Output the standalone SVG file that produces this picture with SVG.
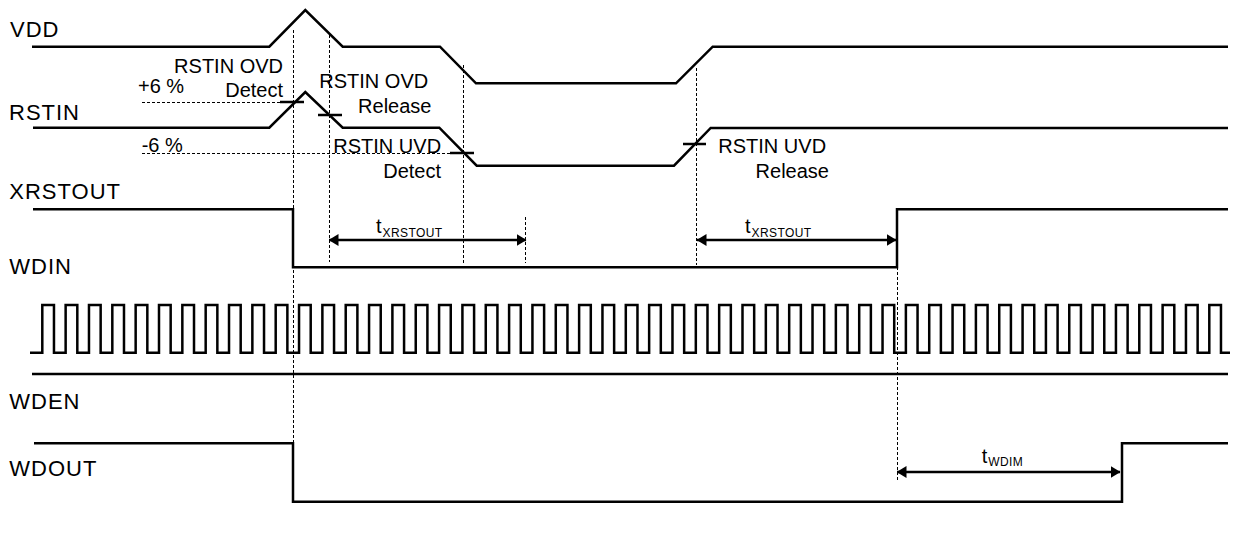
<svg xmlns="http://www.w3.org/2000/svg" width="1233" height="543" viewBox="0 0 1233 543">
<style>
.sig{fill:none;stroke:#000;stroke-width:2.5;stroke-linejoin:miter}
.tick{stroke:#000;stroke-width:2.5}
.dash{fill:none;stroke:#000;stroke-width:1;stroke-dasharray:3,2}
.arr{stroke:#000;stroke-width:2.5;marker-start:url(#ah);marker-end:url(#ah)}
.lbl{font-family:"Liberation Sans",Arial,sans-serif;font-size:22px;letter-spacing:1px;fill:#000}
.ann{font-family:"Liberation Sans",Arial,sans-serif;font-size:20px;fill:#000}
.sub{font-size:12px;letter-spacing:0.4px}
</style>
<defs>
<marker id="ah" viewBox="0 0 10 12" refX="9.5" refY="6" markerWidth="10" markerHeight="12" markerUnits="userSpaceOnUse" orient="auto-start-reverse">
<path d="M0,0 L10,6 L0,12 Z" fill="#000"/>
</marker>
</defs>
<rect width="1233" height="543" fill="#fff"/>

<g id="connectors">
<line class="dash" x1="142" y1="102.5" x2="293" y2="102.5"/>
<line class="dash" x1="142" y1="153.5" x2="456" y2="153.5"/>
<line class="dash" x1="293.5" y1="30" x2="293.5" y2="443"/>
<line class="dash" x1="329.5" y1="35" x2="329.5" y2="262"/>
<line class="dash" x1="463.5" y1="65" x2="463.5" y2="263"/>
<line class="dash" x1="525.5" y1="217" x2="525.5" y2="263"/>
<line class="dash" x1="696.5" y1="68" x2="696.5" y2="265"/>
<line class="dash" x1="897.5" y1="267" x2="897.5" y2="480"/>
<line class="arr" x1="329" y1="240" x2="526" y2="240"/>
<line class="arr" x1="697" y1="240" x2="896" y2="240"/>
<line class="arr" x1="897" y1="472" x2="1120" y2="472"/>
</g>

<g id="vdd">
<text class="lbl" x="10" y="36.7">VDD</text>
<polyline class="sig" points="32,46.7 269.3,46.7 305.3,10 342.7,46.7 440,46.7 476,83.3 676,83.3 712.7,46.7 1228,46.7"/>
</g>

<g id="rstin">
<text class="lbl" x="9" y="120">RSTIN</text>
<polyline class="sig" points="33,127.7 269.3,127.7 305.3,92 342.7,127.7 439.3,127.7 476.7,165.7 674,165.7 710.7,128 1228,128"/>
<line class="tick" x1="280" y1="102" x2="304" y2="102"/>
<line class="tick" x1="318" y1="115" x2="342" y2="115"/>
<line class="tick" x1="450" y1="153" x2="474" y2="153"/>
<line class="tick" x1="683" y1="144" x2="706" y2="144"/>
<text class="ann" x="138" y="93">+6 %</text>
<text class="ann" x="141.7" y="151.7">-6 %</text>
<text class="ann" x="283" y="73.3" text-anchor="end">RSTIN OVD</text>
<text class="ann" x="283" y="96.7" text-anchor="end">Detect</text>
<text class="ann" x="319.3" y="88">RSTIN OVD</text>
<text class="ann" x="431.5" y="113" text-anchor="end">Release</text>
<text class="ann" x="333.3" y="153">RSTIN UVD</text>
<text class="ann" x="441" y="178" text-anchor="end">Detect</text>
<text class="ann" x="718.3" y="153">RSTIN UVD</text>
<text class="ann" x="829" y="178" text-anchor="end">Release</text>
</g>

<g id="xrstout">
<text class="lbl" x="9.3" y="199.3">XRSTOUT</text>
<polyline class="sig" points="33,209.3 293,209.3 293,267.3 897,267.3 897,209.3 1228,209.3"/>
<text class="ann" x="376" y="233">t<tspan class="sub" dx="1" dy="3.7">XRSTOUT</tspan></text>
<text class="ann" x="745" y="233">t<tspan class="sub" dx="1" dy="3.7">XRSTOUT</tspan></text>
</g>

<g id="wdin">
<text class="lbl" x="9.3" y="274">WDIN</text>
<path class="sig" d="M30,352.7 H42.3
V305 h11.67 V352.7 h11.67 V305 h11.67 V352.7 h11.67 V305 h11.67 V352.7 h11.67 V305 h11.67 V352.7 h11.67 V305 h11.67 V352.7 h11.67
V305 h11.67 V352.7 h11.67 V305 h11.67 V352.7 h11.67 V305 h11.67 V352.7 h11.67 V305 h11.67 V352.7 h11.67 V305 h11.67 V352.7 h11.67
V305 h11.67 V352.7 h11.67 V305 h11.67 V352.7 h11.67 V305 h11.67 V352.7 h11.67 V305 h11.67 V352.7 h11.67 V305 h11.67 V352.7 h11.67
V305 h11.67 V352.7 h11.67 V305 h11.67 V352.7 h11.67 V305 h11.67 V352.7 h11.67 V305 h11.67 V352.7 h11.67 V305 h11.67 V352.7 h11.67
V305 h11.67 V352.7 h11.67 V305 h11.67 V352.7 h11.67 V305 h11.67 V352.7 h11.67 V305 h11.67 V352.7 h11.67 V305 h11.67 V352.7 h11.67
V305 h11.67 V352.7 h11.67 V305 h11.67 V352.7 h11.67 V305 h11.67 V352.7 h11.67 V305 h11.67 V352.7 h11.67 V305 h11.67 V352.7 h11.67
V305 h11.67 V352.7 h11.67 V305 h11.67 V352.7 h11.67 V305 h11.67 V352.7 h11.67 V305 h11.67 V352.7 h11.67 V305 h11.67 V352.7 h11.67
V305 h11.67 V352.7 h11.67 V305 h11.67 V352.7 h11.67 V305 h11.67 V352.7 h11.67 V305 h11.67 V352.7 h11.67 V305 h11.67 V352.7 h11.67
V305 h11.67 V352.7 h11.67 V305 h11.67 V352.7 h11.67 V305 h11.67 V352.7 h11.67 V305 h11.67 V352.7 h11.67 V305 h11.67 V352.7 h11.67
V305 h11.67 V352.7 h11.67 V305 h11.67 V352.7 h11.67 V305 h11.67 V352.7 h11.67 V305 h11.67 V352.7 h11.67 V305 h11.67 V352.7 h11.67
V305 h11.67 V352.7 H1230"/>
</g>

<g id="wden">
<text class="lbl" x="9.3" y="409">WDEN</text>
<line class="sig" x1="32" y1="374" x2="1228" y2="374"/>
</g>

<g id="wdout">
<text class="lbl" x="9.3" y="476">WDOUT</text>
<polyline class="sig" points="34,443.3 293,443.3 293,501.7 1122,501.7 1122,443.3 1228,443.3"/>
<text class="ann" x="981.7" y="462.7">t<tspan class="sub" dx="1" dy="3">WDIM</tspan></text>
</g>
</svg>
